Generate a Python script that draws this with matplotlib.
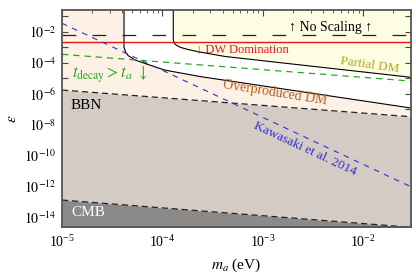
import numpy as np
import matplotlib
matplotlib.use("Agg")
import matplotlib.pyplot as plt
from matplotlib.ticker import LogLocator, NullFormatter

plt.rcParams['font.family'] = ['Liberation Serif', 'DejaVu Serif']
plt.rcParams['mathtext.fontset'] = 'stix'

# axion mass (eV) vs epsilon
m_overprod = [4.15e-5, 4.15e-5, 4.30e-5, 4.55e-5, 5.35e-5, 7.2e-5, 1.06e-4, 2.37e-4, 3.0e-2]
eps_overprod = [1.0, 1.03e-3, 4.9e-4, 2.9e-4, 1.48e-4, 7.6e-5, 3.3e-5, 1.27e-5, 1.17e-7]

m_partial = [1.285e-4, 1.285e-4, 1.32e-4, 1.39e-4, 1.53e-4, 1.80e-4, 2.27e-4, 4.22e-4, 3.0e-2]
eps_partial = [1.0, 2.9e-3, 1.73e-3, 1.28e-3, 9.5e-4, 7.1e-4, 5.1e-4, 2.5e-4, 1.13e-5]

m_ends = [1e-5, 3.0e-2]
eps_decay = [3.46e-4, 6.5e-6]
eps_kawasaki = [3.5e-2, 9.5e-13]
eps_bbn = [1.7e-6, 3.2e-8]
eps_cmb = [1.32e-13, 2.3e-15]
eps_dw = 2.07e-3
eps_noscale = 6.4e-3

xmin, xmax = 1e-5, 3.0e-2
ymin, ymax = 10**-14.6, 10**-0.6

fig = plt.figure(figsize=(4.16, 2.79), dpi=100)
ax = fig.add_axes([0.149, 0.1875, 0.839, 0.7765])
ax.set_xscale('log')
ax.set_yscale('log')
ax.set_xlim(xmin, xmax)
ax.set_ylim(ymin, ymax)

peach = '#fdf0e5'
ax.set_facecolor(peach)

# white: above overproduced curve
ax.fill(m_overprod + [xmax, xmax], eps_overprod + [1.0, 1.0], color='white', lw=0, zorder=1)
# yellow: partial DM
ax.fill(m_partial + [xmax, xmax], eps_partial + [1.0, 1.0], color='#fdfde4', lw=0, zorder=1)
# BBN and CMB
ax.fill_between(m_ends, eps_bbn, 1e-20, color='#d4cbc5', lw=0, zorder=2)
ax.fill_between(m_ends, eps_cmb, 1e-20, color='#8c8a89', lw=0, zorder=3)
ax.plot(m_ends, eps_bbn, color='#222222', lw=0.9, dashes=(5, 3), zorder=4)
ax.plot(m_ends, eps_cmb, color='#222222', lw=0.9, dashes=(5, 3), zorder=4)

ax.plot(m_overprod, eps_overprod, color='black', lw=0.8, zorder=5)
ax.plot(m_partial, eps_partial, color='black', lw=0.8, zorder=5)

ax.axhline(eps_dw, color='#e8141c', lw=1.0, zorder=6)
ax.axhline(eps_noscale, color='#222222', lw=0.9, dashes=(11, 13), zorder=6)
ax.plot(m_ends, eps_decay, color='#22aa22', lw=0.9, dashes=(5, 4), zorder=6)
ax.plot(m_ends, eps_kawasaki, color='#3030d0', lw=0.8, dashes=(5, 5), zorder=6)

ax.text(4.7e-3, 1.74e-2, '↑ No Scaling ↑', fontsize=10, ha='center', va='center', zorder=7)
ax.text(2.17e-4, 7.6e-4, '↓ DW Domination', fontsize=9, color='#e8141c', ha='left', va='center', zorder=7)
ax.text(1.17e-2, 7.0e-5, 'Partial DM', fontsize=9.5, color='#b0ab20', ha='center', va='center',
        rotation=-8, rotation_mode='anchor', zorder=7)
ax.text(1.33e-3, 1.09e-6, 'Overproduced DM', fontsize=10, color='#b5601a', ha='center', va='center',
        rotation=-9, rotation_mode='anchor', zorder=7)
ax.text(2.64e-3, 2.6e-10, 'Kawasaki et al. 2014', fontsize=9.5, color='#3030d0', ha='center', va='center',
        rotation=-25, rotation_mode='anchor', zorder=7)
ax.text(1.26e-5, 1.58e-5, r'$t_{\rm decay} > t_a\ \downarrow$', fontsize=12, color='#22aa22',
        ha='left', va='center', zorder=7)
ax.text(1.23e-5, 1.6e-7, 'BBN', fontsize=11, ha='left', va='center', zorder=7)
ax.text(1.23e-5, 2.0e-14, 'CMB', fontsize=11, color='white', ha='left', va='center', zorder=7)

ax.set_xlabel(r'$m_a$ (eV)', fontsize=11, labelpad=5)
ax.set_ylabel(r'$\epsilon$', fontsize=11, rotation=90, labelpad=4)

ax.xaxis.set_major_locator(LogLocator(base=10, numticks=10))
ax.xaxis.set_minor_locator(LogLocator(base=10, subs=np.arange(2, 10), numticks=20))
ax.xaxis.set_minor_formatter(NullFormatter())
yt = 10.0 ** np.arange(-14, 0)
ax.set_yticks(yt)
ax.set_yticklabels([r'$10^{%d}$' % e if e % 2 == 0 else '' for e in range(-14, 0)])
ax.yaxis.set_minor_locator(plt.NullLocator())

ax.tick_params(which='both', direction='in', top=True, right=True, labelsize=10, color='#444444')
ax.tick_params(which='major', length=4, width=0.8)
ax.tick_params(which='minor', length=2, width=0.6)
ax.tick_params(axis='x', pad=5)
ax.tick_params(axis='y', pad=4)
for s in ax.spines.values():
    s.set_color('#555555')
    s.set_linewidth(1.3)
    s.set_zorder(8)

fig.savefig('out.png', dpi=100)
